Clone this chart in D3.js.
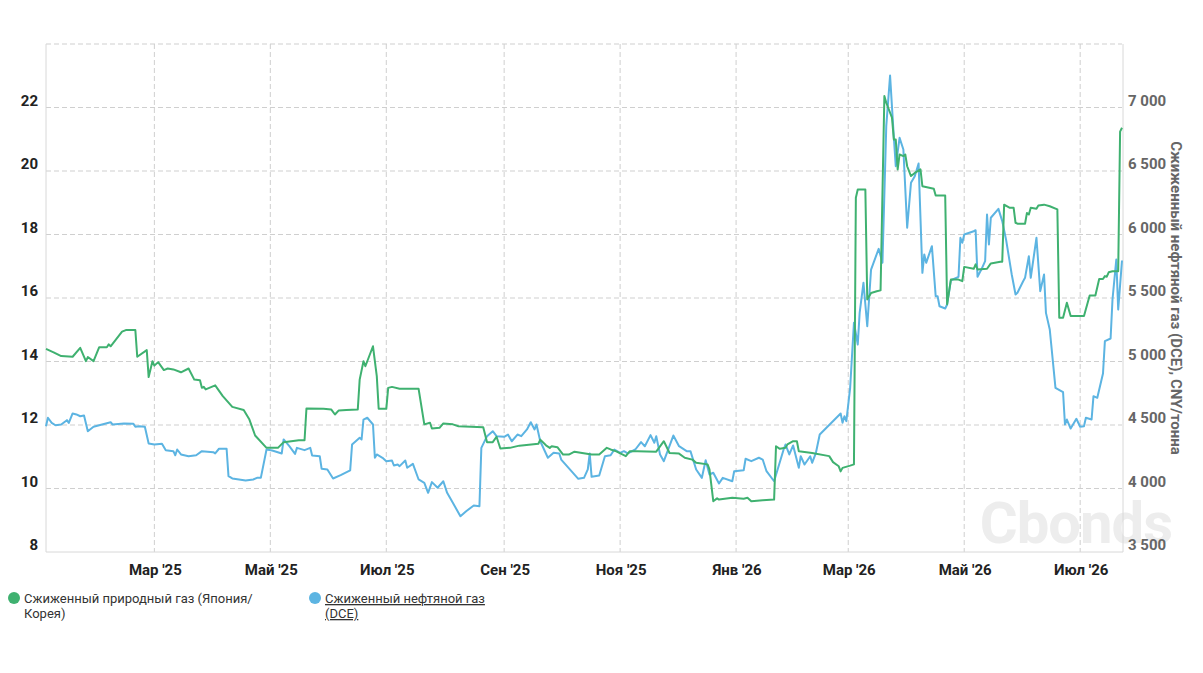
<!DOCTYPE html>
<html>
<head>
<meta charset="utf-8">
<script src="https://cdn.jsdelivr.net/npm/d3@7"></script>
<style>
  body { margin: 0; background: #fff; font-family: Roboto, "Noto Sans", sans-serif; }
  .grid line { stroke: #cfcfcf; stroke-dasharray: 5,3; }
  .axis-line { stroke: #d8d8d8; }
</style>
</head>
<body>
<div id="chart-container"></div>
<script>
// Сжиженный природный газ (Япония/Корея) — левая ось
const lngDates = [
  "2025-01-03","2025-01-07","2025-01-11","2025-01-17","2025-01-21","2025-01-24","2025-01-25","2025-01-28","2025-01-31","2025-02-04",
  "2025-02-05","2025-02-06","2025-02-12","2025-02-14","2025-02-19","2025-02-20","2025-02-25","2025-02-26","2025-02-28","2025-03-01",
  "2025-03-03","2025-03-06","2025-03-08","2025-03-11","2025-03-15","2025-03-19","2025-03-22","2025-03-25","2025-03-26","2025-03-27",
  "2025-03-28","2025-04-02","2025-04-06","2025-04-11","2025-04-17","2025-04-20","2025-04-23","2025-04-29","2025-05-05","2025-05-08",
  "2025-05-16","2025-05-19","2025-05-20","2025-05-29","2025-06-02","2025-06-04","2025-06-06","2025-06-10","2025-06-16","2025-06-17",
  "2025-06-19","2025-06-20","2025-06-24","2025-06-26","2025-06-27","2025-07-01","2025-07-02","2025-07-04","2025-07-08","2025-07-18",
  "2025-07-21","2025-07-24","2025-07-25","2025-07-29","2025-07-31","2025-08-05","2025-08-08","2025-08-21","2025-08-23","2025-08-26",
  "2025-08-28","2025-08-30","2025-09-04","2025-09-09","2025-09-19","2025-09-20","2025-09-23","2025-09-25","2025-09-26","2025-09-29",
  "2025-10-02","2025-10-05","2025-10-08","2025-10-12","2025-10-17","2025-10-21","2025-10-25","2025-10-27","2025-10-30","2025-11-04",
  "2025-11-06","2025-11-10","2025-11-20","2025-11-24","2025-11-27","2025-12-02","2025-12-05","2025-12-09","2025-12-11","2025-12-17",
  "2025-12-18","2025-12-20","2025-12-22","2025-12-23","2025-12-30","2026-01-05","2026-01-07","2026-01-09","2026-01-15","2026-01-21",
  "2026-01-22","2026-01-24","2026-01-27","2026-01-28","2026-01-31","2026-02-02","2026-02-03","2026-02-10","2026-02-19","2026-02-21",
  "2026-02-24","2026-02-25","2026-02-26","2026-03-02","2026-03-04","2026-03-05","2026-03-06","2026-03-10","2026-03-11","2026-03-13",
  "2026-03-16","2026-03-18","2026-03-20","2026-03-21","2026-03-24","2026-03-25","2026-03-26","2026-03-27","2026-03-28","2026-03-30",
  "2026-03-31","2026-04-01","2026-04-03","2026-04-05","2026-04-08","2026-04-09","2026-04-15","2026-04-16","2026-04-21","2026-04-22",
  "2026-04-24","2026-04-28","2026-04-30","2026-05-01","2026-05-06","2026-05-07","2026-05-08","2026-05-13","2026-05-15","2026-05-20",
  "2026-05-21","2026-05-22","2026-05-25","2026-05-27","2026-05-28","2026-05-29","2026-06-02","2026-06-03","2026-06-04","2026-06-05",
  "2026-06-08","2026-06-09","2026-06-12","2026-06-15","2026-06-19","2026-06-20","2026-06-22","2026-06-24","2026-06-26","2026-07-03",
  "2026-07-06","2026-07-09","2026-07-11","2026-07-13","2026-07-14","2026-07-15","2026-07-16","2026-07-18","2026-07-21","2026-07-22",
  "2026-07-23"
];
const lngValues = [
  14.40,14.29,14.17,14.15,14.43,14.01,14.14,14.01,14.45,14.45,
  14.54,14.48,14.94,14.99,14.99,14.15,14.36,13.51,14.01,13.87,
  13.98,13.73,13.78,13.75,13.66,13.78,13.43,13.41,13.17,13.20,
  13.12,13.25,12.91,12.57,12.47,12.17,11.67,11.28,11.28,11.46,
  11.52,11.52,12.52,12.51,12.49,12.33,12.46,12.47,12.49,13.43,
  14.01,13.85,14.48,13.54,12.51,12.51,13.17,13.20,13.14,13.14,
  12.02,12.07,11.89,11.91,12.05,12.02,11.96,11.93,11.46,11.46,
  11.63,11.26,11.28,11.35,11.41,11.54,11.36,11.28,11.33,11.30,
  11.07,11.07,11.16,11.12,11.07,11.07,11.28,11.23,11.17,11.02,
  11.17,11.17,11.16,11.49,11.12,11.10,10.97,10.91,10.81,10.76,
  10.60,9.60,9.69,9.65,9.71,9.68,9.71,9.60,9.63,9.65,
  11.33,11.25,11.28,11.39,11.49,11.49,11.17,11.12,11.02,10.83,
  10.70,10.54,10.65,10.72,10.76,19.16,19.42,19.42,15.95,16.16,
  16.21,16.24,22.36,22.15,21.68,20.99,20.99,20.05,20.52,20.47,
  20.52,20.15,19.84,19.94,20.05,19.52,19.44,19.23,19.23,15.80,
  16.58,16.58,16.53,16.98,16.92,17.06,16.90,16.92,17.09,17.14,
  17.14,18.94,18.84,18.84,18.37,18.34,18.34,18.68,18.63,18.84,
  18.81,18.91,18.94,18.89,18.79,15.38,15.38,15.85,15.43,15.43,
  16.08,16.08,16.60,16.60,16.69,16.67,16.81,16.84,16.84,21.24,
  21.36
];

// Сжиженный нефтяной газ (DCE), CNY/тонна — правая ось
const lpgDates = [
  "2025-01-03","2025-01-04","2025-01-06","2025-01-08","2025-01-11","2025-01-14","2025-01-15","2025-01-17","2025-01-19","2025-01-21",
  "2025-01-23","2025-01-25","2025-01-28","2025-01-31","2025-02-06","2025-02-07","2025-02-13","2025-02-18","2025-02-19","2025-02-21",
  "2025-02-24","2025-02-26","2025-03-01","2025-03-05","2025-03-07","2025-03-11","2025-03-12","2025-03-13","2025-03-15","2025-03-19",
  "2025-03-23","2025-03-26","2025-04-01","2025-04-02","2025-04-04","2025-04-08","2025-04-09","2025-04-11","2025-04-18","2025-04-22",
  "2025-04-24","2025-04-26","2025-04-29","2025-05-02","2025-05-07","2025-05-08","2025-05-11","2025-05-14","2025-05-15","2025-05-19",
  "2025-05-22","2025-05-23","2025-05-27","2025-05-28","2025-05-31","2025-06-03","2025-06-07","2025-06-12","2025-06-13","2025-06-17",
  "2025-06-18","2025-06-19","2025-06-21","2025-06-24","2025-06-25","2025-06-26","2025-06-29","2025-07-01","2025-07-04","2025-07-05",
  "2025-07-07","2025-07-08","2025-07-11","2025-07-12","2025-07-15","2025-07-18","2025-07-21","2025-07-23","2025-07-25","2025-07-28",
  "2025-07-31","2025-08-02","2025-08-05","2025-08-09","2025-08-12","2025-08-16","2025-08-19","2025-08-20","2025-08-23","2025-08-26",
  "2025-08-28","2025-09-01","2025-09-03","2025-09-05","2025-09-08","2025-09-10","2025-09-13","2025-09-15","2025-09-17","2025-09-18",
  "2025-09-20","2025-09-24","2025-09-27","2025-09-30","2025-10-01","2025-10-10","2025-10-13","2025-10-15","2025-10-16","2025-10-17",
  "2025-10-21","2025-10-24","2025-10-27","2025-10-29","2025-11-01","2025-11-03","2025-11-05","2025-11-09","2025-11-12","2025-11-14",
  "2025-11-17","2025-11-19","2025-11-20","2025-11-22","2025-11-24","2025-11-29","2025-12-02","2025-12-06","2025-12-08","2025-12-11",
  "2025-12-14","2025-12-16","2025-12-18","2025-12-20","2025-12-23","2025-12-25","2025-12-30","2025-12-31","2026-01-05","2026-01-06",
  "2026-01-09","2026-01-13","2026-01-15","2026-01-17","2026-01-21","2026-01-26","2026-01-27","2026-01-29","2026-01-31","2026-02-03",
  "2026-02-04","2026-02-06","2026-02-09","2026-02-10","2026-02-12","2026-02-14","2026-02-25","2026-02-26","2026-02-27","2026-02-28",
  "2026-03-02","2026-03-04","2026-03-06","2026-03-07","2026-03-09","2026-03-11","2026-03-13","2026-03-17","2026-03-19","2026-03-21",
  "2026-03-23","2026-03-25","2026-03-26","2026-03-28","2026-03-30","2026-04-01","2026-04-03","2026-04-05","2026-04-07","2026-04-09",
  "2026-04-10","2026-04-11","2026-04-14","2026-04-16","2026-04-17","2026-04-18","2026-04-21","2026-04-22","2026-04-24","2026-04-28",
  "2026-04-29","2026-04-30","2026-05-01","2026-05-06","2026-05-07","2026-05-08","2026-05-10","2026-05-12","2026-05-13","2026-05-14",
  "2026-05-15","2026-05-19","2026-05-21","2026-05-23","2026-05-26","2026-05-28","2026-05-29","2026-06-01","2026-06-02","2026-06-04",
  "2026-06-05","2026-06-08","2026-06-10","2026-06-12","2026-06-13","2026-06-15","2026-06-18","2026-06-22","2026-06-23","2026-06-24",
  "2026-06-26","2026-06-29","2026-07-01","2026-07-03","2026-07-04","2026-07-07","2026-07-08","2026-07-10","2026-07-13","2026-07-14",
  "2026-07-17","2026-07-18","2026-07-20","2026-07-21","2026-07-23"
];
const lpgValues = [
  4490,4557,4517,4498,4504,4538,4517,4591,4583,4569,
  4575,4451,4486,4498,4522,4504,4512,4509,4486,4490,
  4486,4354,4346,4352,4302,4294,4262,4307,4268,4254,
  4262,4294,4286,4276,4313,4313,4097,4079,4063,4071,
  4084,4084,4307,4299,4276,4386,4333,4273,4320,4302,
  4320,4260,4254,4155,4150,4079,4105,4142,4346,4399,
  4386,4543,4557,4504,4242,4268,4242,4215,4220,4181,
  4189,4176,4220,4163,4194,4071,4045,3966,4050,4006,
  4057,3966,3887,3782,3821,3866,3861,4320,4412,4451,
  4412,4407,4425,4372,4425,4412,4465,4522,4465,4504,
  4372,4242,4281,4276,4228,4076,4084,4150,4276,4092,
  4102,4254,4262,4307,4281,4294,4276,4307,4365,4333,
  4420,4360,4412,4268,4215,4417,4333,4294,4294,4150,
  4084,4223,4110,4124,4039,4084,4057,4136,4144,4234,
  4215,4242,4228,4136,4057,4307,4346,4268,4339,4163,
  4254,4189,4254,4202,4281,4425,4591,4517,4569,4530,
  4793,5305,5134,5383,5620,5278,5724,5887,5777,6853,
  7252,6761,6538,6761,6669,6053,6407,6459,6559,5698,
  5843,5777,5908,5514,5514,5435,5417,5449,5640,5667,
  5974,5935,6000,6026,6034,5667,5724,5790,6157,5921,
  6132,6202,6105,5961,5685,5528,5541,5632,5659,5829,
  5659,5974,5554,5685,5383,5252,4793,4758,4504,4543,
  4472,4549,4486,4490,4557,4543,4727,4714,4906,5160,
  5181,5488,5803,5409,5795
];

const monthTicks = ["2025-03-01","2025-05-01","2025-07-01","2025-09-01","2025-11-01","2026-01-01","2026-03-01","2026-05-01","2026-07-01"];
const monthLabels = ["Мар '25","Май '25","Июл '25","Сен '25","Ноя '25","Янв '26","Мар '26","Май '26","Июл '26"];
const leftTicks = [8, 10, 12, 14, 16, 18, 20, 22];
const rightTicks = [3500, 4000, 4500, 5000, 5500, 6000, 6500, 7000];

const rightTitle = "Сжиженный нефтяной газ (DCE), CNY/тонна";

const W = 1203, H = 673;
const plot = { left: 46, right: 1122, top: 44, bottom: 552 };
const green = "#3fb170", blue = "#5cb4e2";

const parse = d3.utcParse("%Y-%m-%d");

const svg = d3.select("#chart-container")
  .append("svg")
  .attr("width", W)
  .attr("height", H);

const x = d3.scaleUtc()
  .domain([parse("2025-01-03"), parse("2026-07-23")])
  .range([plot.left, plot.right]);

const yL = d3.scaleLinear().domain([8, 24]).range([plot.bottom, plot.top]);
const yR = d3.scaleLinear().domain([3500, 7500]).range([plot.bottom, plot.top]);

// watermark (logo behind the plot)
svg.append("text")
  .attr("x", 1172)
  .attr("y", 543)
  .attr("text-anchor", "end")
  .style("font-size", "58px")
  .style("font-weight", "700")
  .style("fill", "#ededed")
  .style("letter-spacing", "-1px")
  .text("Cbonds");

// grid
const grid = svg.append("g").attr("class", "grid");
grid.selectAll(".hg")
  .data([10, 12, 14, 16, 18, 20, 22, 24])
  .enter().append("line")
  .attr("x1", plot.left).attr("x2", plot.right)
  .attr("y1", d => yL(d)).attr("y2", d => yL(d));
grid.selectAll(".vg")
  .data(monthTicks)
  .enter().append("line")
  .attr("x1", d => x(parse(d))).attr("x2", d => x(parse(d)))
  .attr("y1", plot.top).attr("y2", plot.bottom);

svg.append("line").attr("class", "axis-line")
  .attr("x1", plot.left).attr("x2", plot.left).attr("y1", plot.top).attr("y2", plot.bottom);
svg.append("line").attr("class", "axis-line")
  .attr("x1", plot.right + 1).attr("x2", plot.right + 1).attr("y1", plot.top).attr("y2", plot.bottom);
svg.append("line").attr("class", "axis-line")
  .attr("x1", plot.left).attr("x2", plot.right + 1).attr("y1", plot.bottom).attr("y2", plot.bottom);

// axes labels
svg.selectAll(".ltick")
  .data(leftTicks)
  .enter().append("text")
  .attr("x", 38)
  .attr("y", d => yL(d) - 2)
  .attr("text-anchor", "end")
  .style("font-size", "15px")
  .style("font-weight", "700")
  .style("fill", "#222")
  .text(d => d);

const fmt = v => d3.format(",")(v).replace(",", " ");
svg.selectAll(".rtick")
  .data(rightTicks)
  .enter().append("text")
  .attr("x", 1128)
  .attr("y", d => yR(d) - 2)
  .style("font-size", "15px")
  .style("font-weight", "700")
  .style("fill", "#666")
  .text(d => fmt(d));

svg.selectAll(".xtick")
  .data(monthTicks)
  .enter().append("text")
  .attr("x", d => x(parse(d)) + 1)
  .attr("y", 575)
  .attr("text-anchor", "middle")
  .style("font-size", "15px")
  .style("font-weight", "700")
  .style("fill", "#222")
  .text((d, i) => monthLabels[i]);

svg.append("text")
  .attr("transform", `translate(1171,${(plot.top + plot.bottom) / 2}) rotate(90)`)
  .attr("text-anchor", "middle")
  .style("font-size", "15px")
  .style("font-weight", "700")
  .style("fill", "#666")
  .text(rightTitle);

// lines
const lngData = lngDates.map((d, i) => ({ date: parse(d), value: lngValues[i] }));
const lpgData = lpgDates.map((d, i) => ({ date: parse(d), value: lpgValues[i] }));

svg.append("path")
  .datum(lpgData)
  .attr("fill", "none")
  .attr("stroke", blue)
  .attr("stroke-width", 2)
  .attr("stroke-linejoin", "round")
  .attr("d", d3.line().x(d => x(d.date)).y(d => yR(d.value)));

svg.append("path")
  .datum(lngData)
  .attr("fill", "none")
  .attr("stroke", green)
  .attr("stroke-width", 2)
  .attr("stroke-linejoin", "round")
  .attr("d", d3.line().x(d => x(d.date)).y(d => yL(d.value)));

// legend
const legend = [
  { x: 14, color: green, lines: ["Сжиженный природный газ (Япония/", "Корея)"], underline: false },
  { x: 315, color: blue, lines: ["Сжиженный нефтяной газ", "(DCE)"], underline: true }
];
legend.forEach(item => {
  svg.append("circle")
    .attr("cx", item.x)
    .attr("cy", 598)
    .attr("r", 6)
    .attr("fill", item.color);
  const t = svg.append("text")
    .attr("x", item.x + 10)
    .attr("y", 603)
    .style("font-size", "13px")
    .style("fill", "#333")
    .style("text-decoration", item.underline ? "underline" : "none");
  item.lines.forEach((l, i) => {
    t.append("tspan")
      .attr("x", item.x + 10)
      .attr("dy", i === 0 ? 0 : 15)
      .text(l);
  });
});
</script>
</body>
</html>
